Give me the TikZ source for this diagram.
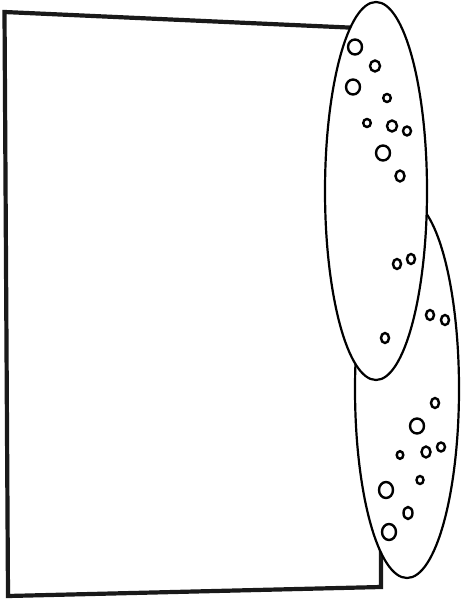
\documentclass[tikz,border=0pt]{standalone}
\usetikzlibrary{positioning}
\tikzset{
  frame/.style={draw=black!90, line width=4.2pt, line join=miter},
  pod/.style={draw=black, line width=2.2pt, fill=white},
  bubble/.style={draw=black, line width=2.4pt},
}

\begin{document}
\begin{tikzpicture}[x=1pt, y=-1pt]
  \useasboundingbox (0,0) rectangle (464,601);

  % slanted frame behind the pods
  \draw[frame] (4.5,12) -- (381,29) -- (381,587) -- (8,596) -- cycle;

  % the two pods, upper one on top
  \draw[pod] (407,389) ellipse [x radius=52, y radius=189];
  \draw[pod] (376,191) ellipse [x radius=51, y radius=189];

  % bubbles: x/y/rx/ry
  \foreach \bx/\by/\rx/\ry in {
      355/47/7/7.5, 375/66/5/5.5, 353/87/7/7.5, 387/98/3.8/4,
      367/123/3.8/4, 392/126/5/5.5, 407/131/4/4.5, 383/153/7/7.5,
      400/176/4.5/5.5, 397/264/4/5, 411/259/4/5, 385/338/4/5,
      430/315/4/5, 445/320/4/5, 435/403/4/5, 417/426/7/7.5,
      400/455/3.3/3.8, 426/452/4.5/5.5, 441/447/4/4.5, 420/480/3.5/4,
      386/490/7/8, 408/513/4.5/6, 389/532/7/8}
    \draw[bubble] (\bx,\by) ellipse [x radius=\rx, y radius=\ry];

\end{tikzpicture}
\end{document}
